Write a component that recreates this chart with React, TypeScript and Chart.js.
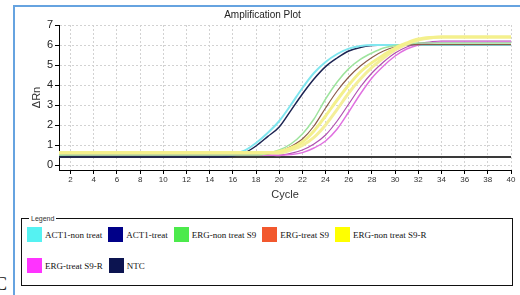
import React, { useEffect, useRef } from "react";
import { Chart, registerables } from "chart.js";

Chart.register(...registerables);

const cycles = [1, 2, 3, 4, 5, 6, 7, 8, 9, 10, 11, 12, 13, 14, 15, 16, 17, 18, 19, 20, 21, 22, 23, 24, 25, 26, 27, 28, 29, 30, 31, 32, 33, 34, 35, 36, 37, 38, 39, 40];

const act1NonTreat = [0.5, 0.5, 0.5, 0.5, 0.5, 0.5, 0.5, 0.5, 0.5, 0.5, 0.5, 0.5, 0.5, 0.5, 0.5, 0.55, 0.72, 1.1, 1.6, 2.2, 3.0, 3.85, 4.6, 5.15, 5.55, 5.82, 5.95, 6.0, 6.0, 6.0, 6.0, 6.0, 6.0, 6.0, 6.0, 6.0, 6.0, 6.0, 6.0, 6.0];
const act1Treat = [0.4, 0.4, 0.4, 0.4, 0.4, 0.4, 0.4, 0.4, 0.4, 0.4, 0.4, 0.4, 0.4, 0.4, 0.4, 0.45, 0.6, 0.95, 1.42, 1.9, 2.72, 3.55, 4.3, 4.92, 5.35, 5.7, 5.88, 5.97, 6.0, 6.0, 6.0, 6.0, 6.0, 6.0, 6.0, 6.0, 6.0, 6.0, 6.0, 6.0];
const ergNonTreatS9 = [0.5, 0.5, 0.5, 0.5, 0.5, 0.5, 0.5, 0.5, 0.5, 0.5, 0.5, 0.5, 0.5, 0.5, 0.5, 0.5, 0.5, 0.5, 0.58, 0.75, 1.05, 1.55, 2.3, 3.3, 4.15, 4.82, 5.28, 5.6, 5.85, 5.97, 6.05, 6.1, 6.1, 6.1, 6.1, 6.1, 6.1, 6.1, 6.1, 6.1];
const ergTreatS9 = [0.5, 0.5, 0.5, 0.5, 0.5, 0.5, 0.5, 0.5, 0.5, 0.5, 0.5, 0.5, 0.5, 0.5, 0.5, 0.5, 0.5, 0.5, 0.55, 0.68, 0.92, 1.3, 1.95, 2.85, 3.7, 4.4, 4.95, 5.38, 5.7, 5.9, 6.0, 6.02, 6.02, 6.02, 6.02, 6.02, 6.02, 6.02, 6.02, 6.02];
const ergNonTreatS9R_a = [0.62, 0.62, 0.62, 0.62, 0.62, 0.62, 0.62, 0.62, 0.62, 0.62, 0.62, 0.62, 0.62, 0.62, 0.62, 0.62, 0.62, 0.62, 0.62, 0.68, 0.85, 1.15, 1.7, 2.45, 3.25, 4.0, 4.65, 5.12, 5.5, 5.85, 6.1, 6.3, 6.38, 6.4, 6.4, 6.4, 6.4, 6.4, 6.4, 6.4];
const ergNonTreatS9R_b = [0.6, 0.6, 0.6, 0.6, 0.6, 0.6, 0.6, 0.6, 0.6, 0.6, 0.6, 0.6, 0.6, 0.6, 0.6, 0.6, 0.6, 0.6, 0.6, 0.6, 0.75, 0.98, 1.38, 2.0, 2.78, 3.6, 4.3, 4.88, 5.35, 5.75, 6.05, 6.25, 6.35, 6.4, 6.4, 6.4, 6.4, 6.4, 6.4, 6.4];
const ergTreatS9R_a = [0.62, 0.55, 0.5, 0.5, 0.5, 0.5, 0.5, 0.5, 0.5, 0.5, 0.5, 0.5, 0.5, 0.5, 0.5, 0.5, 0.5, 0.5, 0.5, 0.48, 0.52, 0.62, 0.85, 1.2, 1.8, 2.65, 3.55, 4.35, 4.95, 5.45, 5.8, 6.0, 6.1, 6.15, 6.15, 6.15, 6.15, 6.15, 6.15, 6.15];
const ergTreatS9R_b = [0.6, 0.5, 0.5, 0.5, 0.5, 0.5, 0.5, 0.5, 0.5, 0.5, 0.5, 0.5, 0.5, 0.5, 0.5, 0.5, 0.5, 0.5, 0.5, 0.5, 0.58, 0.75, 1.05, 1.5, 2.2, 3.05, 3.9, 4.6, 5.15, 5.6, 5.9, 6.08, 6.15, 6.2, 6.2, 6.2, 6.2, 6.2, 6.2, 6.2];
const ntc = [0.4, 0.4, 0.4, 0.4, 0.4, 0.4, 0.4, 0.4, 0.4, 0.4, 0.4, 0.4, 0.4, 0.4, 0.4, 0.4, 0.4, 0.4, 0.4, 0.4, 0.4, 0.4, 0.4, 0.4, 0.4, 0.4, 0.4, 0.4, 0.4, 0.4, 0.4, 0.4, 0.4, 0.4, 0.4, 0.4, 0.4, 0.4, 0.4, 0.4];

const xTicks = [2, 4, 6, 8, 10, 12, 14, 16, 18, 20, 22, 24, 26, 28, 30, 32, 34, 36, 38, 40];
const yTicks = [0, 1, 2, 3, 4, 5, 6, 7];

const legendLabels = ["ACT1-non treat", "ACT1-treat", "ERG-non treat S9", "ERG-treat S9", "ERG-non treat S9-R", "ERG-treat S9-R", "NTC"];
const legendColors = ["#55f2f2", "#000088", "#4cea4c", "#f2582e", "#ffff00", "#ff33ff", "#0c1450"];

const series = [
  { data: ergNonTreatS9R_a, color: "#f4f08c", width: 3 },
  { data: ergNonTreatS9R_b, color: "#f4ef9a", width: 3 },
  { data: ergNonTreatS9, color: "#9ee49e", width: 1.5 },
  { data: ergTreatS9, color: "#8a5a48", width: 1.2 },
  { data: ergTreatS9R_a, color: "#e070e0", width: 1.5 },
  { data: ergTreatS9R_b, color: "#b050b0", width: 1.2 },
  { data: act1NonTreat, color: "#80e6ef", width: 2 },
  { data: act1Treat, color: "#1c2452", width: 1.5 },
  { data: ntc, color: "#3a3a3a", width: 2 },
];

export default function App() {
  const ref = useRef<HTMLCanvasElement>(null);

  useEffect(() => {
    const canvas = ref.current;
    if (!canvas) return;
    const chart = new Chart(canvas, {
      type: "line",
      data: {
        datasets: series.map((s) => ({
          data: cycles.map((c, i) => ({ x: c, y: s.data[i] })),
          borderColor: s.color,
          backgroundColor: s.color,
          borderWidth: s.width,
          pointRadius: 0,
          cubicInterpolationMode: "monotone" as const,
          fill: false,
        })),
      },
      options: {
        animation: false,
        responsive: false,
        devicePixelRatio: 1,
        layout: { padding: { left: 0, right: 9, top: 0, bottom: 0 } },
        plugins: {
          legend: { display: false },
          tooltip: { enabled: false },
          title: {
            display: true,
            text: "Amplification Plot",
            color: "#222",
            font: { family: "'Liberation Sans', Arial, sans-serif", size: 10, weight: "normal" },
            padding: { top: 3, bottom: 4 },
          },
        },
        scales: {
          x: {
            type: "linear",
            min: 1,
            max: 40,
            afterBuildTicks: (s: any) => {
              s.ticks = xTicks.map((v) => ({ value: v }));
            },
            afterFit: (s: any) => {
              s.height = 41;
            },
            ticks: {
              autoSkip: false,
              maxRotation: 0,
              padding: 1,
              color: "#333",
              font: { family: "'Liberation Sans', Arial, sans-serif", size: 8 },
            },
            grid: { color: "#d2d2d2", tickColor: "#000", tickLength: 4, lineWidth: 1 },
            border: { color: "#000", width: 1, dash: [2, 2] },
            title: {
              display: true,
              text: "Cycle",
              color: "#333",
              font: { family: "'Liberation Sans', Arial, sans-serif", size: 11 },
              padding: { top: 0, bottom: 9 },
            },
          },
          y: {
            type: "linear",
            min: -0.25,
            max: 7,
            afterBuildTicks: (s: any) => {
              s.ticks = yTicks.map((v) => ({ value: v }));
            },
            afterFit: (s: any) => {
              s.width = 45;
            },
            ticks: {
              padding: 2,
              color: "#222",
              font: { family: "'Liberation Sans', Arial, sans-serif", size: 11 },
            },
            grid: { color: "#d2d2d2", tickColor: "#000", tickLength: 4, lineWidth: 1 },
            border: { color: "#000", width: 1, dash: [2, 2] },
            title: {
              display: true,
              text: "ΔRn",
              color: "#333",
              font: { family: "'Liberation Sans', Arial, sans-serif", size: 11 },
              padding: { top: 16, bottom: 0 },
            },
          },
        },
      },
    } as any);
    return () => chart.destroy();
  }, []);

  const items = legendLabels.map((label, i) => ({ label, color: legendColors[i] }));
  const rows = [items.slice(0, 5), items.slice(5)];

  return (
    <div style={{ position: "absolute", left: 0, top: 0, width: 520, height: 295, overflow: "hidden", background: "#fff" }}>
      <div style={{ position: "absolute", left: 13, top: 5, width: 2, height: 290, background: "#66a3e0" }} />
      <div style={{ position: "absolute", left: 13, top: 5, width: 507, height: 2, background: "#66a3e0" }} />
      <canvas
        ref={ref}
        width={506}
        height={205}
        style={{ position: "absolute", left: 14, top: 6, width: 506, height: 205 }}
      />
      <div
        style={{
          position: "absolute",
          left: 21,
          top: 218,
          width: 492,
          height: 68,
          border: "1px solid #111",
          boxSizing: "border-box",
        }}
      >
        <span
          style={{
            position: "absolute",
            left: 7,
            top: -5,
            fontFamily: "'Liberation Sans', Arial, sans-serif",
            fontSize: 7,
            lineHeight: "9px",
            color: "#333",
            background: "#fff",
            padding: "0 2px",
          }}
        >
          Legend
        </span>
        {rows.map((row, r) => (
          <div
            key={r}
            style={{
              position: "absolute",
              left: 5,
              top: r === 0 ? 8 : 39,
              display: "flex",
              alignItems: "center",
              whiteSpace: "nowrap",
            }}
          >
            {row.map((it) => (
              <div key={it.label} style={{ display: "flex", alignItems: "center", marginRight: 6 }}>
                <div style={{ width: 15, height: 15, background: it.color }} />
                <span
                  style={{
                    marginLeft: 3,
                    fontFamily: "'Liberation Serif', 'Times New Roman', serif",
                    fontSize: 9,
                    color: "#111",
                  }}
                >
                  {it.label}
                </span>
              </div>
            ))}
          </div>
        ))}
      </div>
      <span
        style={{
          position: "absolute",
          left: -5,
          top: 274,
          fontFamily: "'Liberation Serif', serif",
          fontSize: 18,
          color: "#111",
        }}
      >
        C
      </span>
    </div>
  );
}
